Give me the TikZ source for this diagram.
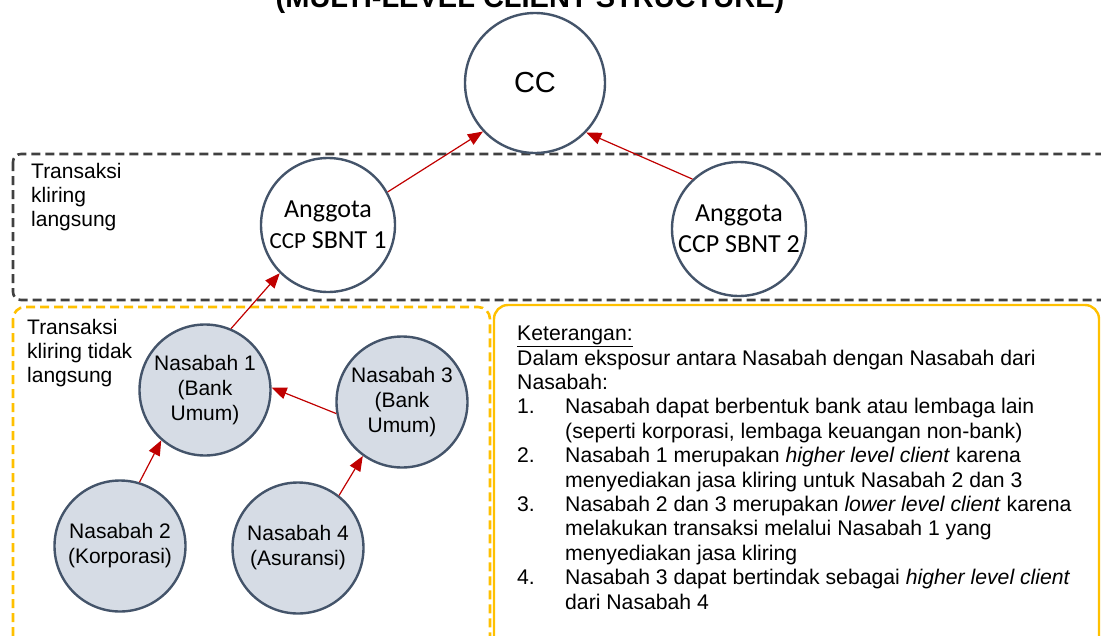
\documentclass[tikz,border=0pt]{standalone}
\usepackage{fontspec}
\setmainfont{Liberation Sans}
\newfontfamily\calibri{Carlito}
\usetikzlibrary{arrows.meta}

\definecolor{slate}{HTML}{44546A}
\definecolor{clientfill}{HTML}{D6DCE5}
\definecolor{linkred}{HTML}{C00000}
\definecolor{boxgray}{HTML}{404040}
\definecolor{boxyellow}{HTML}{FFC000}

\begin{document}
\begin{tikzpicture}[x=1pt, y=-1pt,
  member/.style={circle, draw=slate, line width=2.4pt, fill=white, minimum size=134pt, inner sep=0pt, align=center, font=\calibri\fontsize{26}{31}\selectfont},
  client/.style={circle, draw=slate, line width=2.4pt, fill=clientfill, minimum size=131pt, inner sep=0pt, align=center, font=\fontsize{21}{25}\selectfont},
  link/.style={draw=linkred, line width=1.2pt, -{Triangle[length=15pt,width=12pt]}},
  sidetext/.style={anchor=north west, inner sep=0pt, align=left, font=\fontsize{21}{24}\selectfont}]

\clip (0,0) rectangle (1101,635);

\node (title) [anchor=base, font=\bfseries\fontsize{29}{34}\selectfont] at (530,7) {(MULTI-LEVEL CLIENT STRUCTURE)};

% Boxes
\draw [boxgray, line width=2.6pt, dash pattern=on 9pt off 5pt, rounded corners=8pt] (13,154) rectangle (1115,300);
\draw [boxyellow, line width=2.6pt, dash pattern=on 9pt off 5pt, rounded corners=12pt] (13,307) rectangle (490,660);
\draw [boxyellow, line width=2.4pt, rounded corners=14pt] (494,305) rectangle (1099,660);

\node (direct)   [sidetext] at (31,163) {Transaksi\\kliring\\langsung};
\node (indirect) [sidetext] at (27,319) {Transaksi\\kliring tidak\\langsung};

% Top level
\node (cc)  [member, minimum size=140pt, font=\fontsize{29}{34}\selectfont] at (535,83) {CC};
\node (ag1) [member] at (328,225) {Anggota\\{\fontsize{23}{23}\selectfont CCP} SBNT 1};
\node (ag2) [member] at (739,229) {Anggota\\CCP SBNT 2};

% Clients
\node (n1) [client] at (205,390) {Nasabah 1\\(Bank\\Umum)};
\node (n3) [client] at (402,402) {Nasabah 3\\(Bank\\Umum)};
\node (n2) [client] at (120,546) {Nasabah 2\\(Korporasi)};
\node (n4) [client] at (298,548) {Nasabah 4\\(Asuransi)};

\draw [link] (ag1.29) -- (cc.223);
\draw [link] (ag2.133) -- (cc.316);
\draw [link] (n1.67) -- (ag1.225);
\draw [link] (n3.190) -- (n1.2);
\draw [link] (n2.73) -- (n1.229);
\draw [link] (n4.52) -- (n3.234);

% Notes
\node (notes) [sidetext, font=\fontsize{21.2}{24.4}\selectfont] at (517,326) {%
\underline{Keterangan:}\\
Dalam eksposur antara Nasabah dengan Nasabah dari\\
Nasabah:\\
\makebox[48pt][l]{1.}Nasabah dapat berbentuk bank atau lembaga lain\\
\hspace*{48pt}(seperti korporasi, lembaga keuangan non-bank)\\
\makebox[48pt][l]{2.}Nasabah 1 merupakan \textit{higher level client} karena\\
\hspace*{48pt}menyediakan jasa kliring untuk Nasabah 2 dan 3\\
\makebox[48pt][l]{3.}Nasabah 2 dan 3 merupakan \textit{lower level client} karena\\
\hspace*{48pt}melakukan transaksi melalui Nasabah 1 yang\\
\hspace*{48pt}menyediakan jasa kliring\\
\makebox[48pt][l]{4.}Nasabah 3 dapat bertindak sebagai \textit{higher level client}\\
\hspace*{48pt}dari Nasabah 4};

\end{tikzpicture}
\end{document}
